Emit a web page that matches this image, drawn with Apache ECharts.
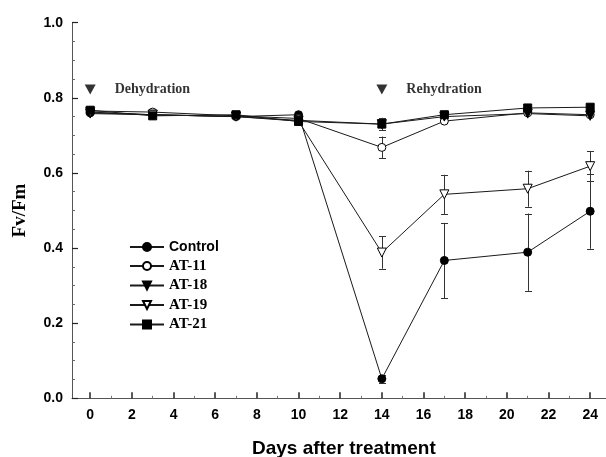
<!DOCTYPE html>
<html><head><meta charset="utf-8">
<script src="https://cdn.jsdelivr.net/npm/echarts@6/dist/echarts.min.js"></script>
<style>html,body{margin:0;padding:0;background:#fff}#c{width:606px;height:457px}</style>
</head><body><div id="c"></div>
<script>
const days = [0, 3, 7, 10, 14, 17, 21, 24];
const control = [0.760, 0.755, 0.750, 0.755, 0.052, 0.367, 0.389, 0.498];
const controlErr = [0, 0, 0, 0, 0.010, 0.100, 0.103, 0.100];
const at11 = [0.765, 0.762, 0.752, 0.745, 0.668, 0.738, 0.760, 0.755];
const at11Err = [0, 0, 0, 0, 0.029, 0, 0, 0];
const at18 = [0.758, 0.755, 0.750, 0.740, 0.730, 0.750, 0.758, 0.752];
const at18Err = [0, 0, 0, 0, 0, 0, 0, 0];
const at19 = [0.762, 0.755, 0.750, 0.738, 0.388, 0.543, 0.558, 0.618];
const at19Err = [0, 0, 0, 0, 0.043, 0.052, 0.048, 0.040];
const at21 = [0.767, 0.752, 0.755, 0.737, 0.730, 0.755, 0.773, 0.775];
const at21Err = [0, 0, 0, 0, 0.017, 0, 0, 0];
const seriesNames = ['Control', 'AT-11', 'AT-18', 'AT-19', 'AT-21'];
const xTickLabels = [0, 2, 4, 6, 8, 10, 12, 14, 16, 18, 20, 22, 24];
const xMinorTicks = [1, 3, 5, 7, 9, 11, 13, 15, 17, 19, 21, 23];
const annotDays = [0, 14];
const annotY = [0.822, 0.822];
const annotText = ['Dehydration', 'Rehydration'];

const LINE = '#1a1a1a';
const AXIS = '#555';
const TXT = '#000';
const sans = 'Liberation Sans, Arial, sans-serif';
const serif = 'Liberation Serif, Times New Roman, serif';

function lineSeries(name, vals, symbol, filled, size, rotate) {
  return {
    name: name, type: 'line', z: 3,
    data: days.map((d, i) => [d, vals[i]]),
    symbol: symbol, symbolSize: size, symbolRotate: rotate || 0, showAllSymbol: true,
    lineStyle: { color: LINE, width: 1 },
    itemStyle: { color: filled ? '#000' : '#fff', borderColor: '#000', borderWidth: 1, opacity: 1 },
    emphasis: { disabled: true }
  };
}
function errSeries(name, vals, errs) {
  const data = [];
  days.forEach((d, i) => { if (errs[i] > 0) data.push([d, vals[i] - errs[i], vals[i] + errs[i]]); });
  return {
    name: name + ' err', type: 'custom', z: 2, silent: true,
    encode: { x: 0, y: [1, 2] },
    data: data,
    renderItem: function (params, api) {
      const x = api.value(0);
      const lo = api.coord([x, api.value(1)]);
      const hi = api.coord([x, api.value(2)]);
      const w = 3.5;
      const px = Math.round(lo[0]) + 0.5;
      const st = { stroke: '#333', lineWidth: 1 };
      return {
        type: 'group', children: [
          { type: 'line', shape: { x1: px, y1: lo[1], x2: px, y2: hi[1] }, style: st },
          { type: 'line', shape: { x1: px - w, y1: Math.round(lo[1]) + 0.5, x2: px + w, y2: Math.round(lo[1]) + 0.5 }, style: st },
          { type: 'line', shape: { x1: px - w, y1: Math.round(hi[1]) + 0.5, x2: px + w, y2: Math.round(hi[1]) + 0.5 }, style: st }
        ]
      };
    }
  };
}

const chart = echarts.init(document.getElementById('c'), null, { renderer: 'canvas' });
chart.setOption({
  animation: false,
  backgroundColor: '#fff',
  grid: { left: 72, right: 0, top: 22.7, bottom: 58.7, containLabel: false },
  legend: {
    orient: 'vertical', left: 124, top: 235,
    data: seriesNames,
    itemWidth: 34, itemHeight: 10, itemGap: 4.5,
    selectedMode: false,
    textStyle: {
      color: TXT, lineHeight: 14,
      rich: {
        s: { fontFamily: sans, fontWeight: 'bold', fontSize: 14, lineHeight: 14, color: TXT },
        t: { fontFamily: serif, fontWeight: 'bold', fontSize: 15, lineHeight: 14, color: TXT }
      }
    },
    formatter: function (n) { return n === 'Control' ? '{s|' + n + '}' : '{t|' + n + '}'; }
  },
  xAxis: [{
    type: 'value', min: -0.874, max: 24.76, position: 'bottom',
    axisLine: { show: true, onZero: false, lineStyle: { color: AXIS, width: 1 } },
    axisTick: { show: true, inside: true, length: 6, customValues: xTickLabels, lineStyle: { color: '#222', width: 1.5 } },
    axisLabel: { customValues: xTickLabels, margin: 10, fontFamily: sans, fontWeight: 'bold', fontSize: 14, color: TXT },
    splitLine: { show: false }
  }, {
    type: 'value', min: -0.874, max: 24.76, position: 'bottom',
    axisLine: { show: false },
    axisTick: { show: true, inside: true, length: 2.5, customValues: xMinorTicks, lineStyle: { color: '#777', width: 1 } },
    axisLabel: { show: false },
    splitLine: { show: false }
  }],
  yAxis: {
    type: 'value', min: 0, max: 1, interval: 0.2,
    axisLine: { show: true, onZero: false, lineStyle: { color: AXIS, width: 1 } },
    axisTick: { show: true, inside: true, length: 6, lineStyle: { color: '#222', width: 1.2 } },
    minorTick: { show: true, splitNumber: 4, length: 3, lineStyle: { color: '#666', width: 1 } },
    axisLabel: { margin: 9, fontFamily: sans, fontWeight: 'bold', fontSize: 14, color: TXT, formatter: v => v.toFixed(1) },
    splitLine: { show: false },
    name: 'Fv/Fm', nameLocation: 'middle', nameGap: 42, nameRotate: 90,
    nameTextStyle: { fontFamily: serif, fontWeight: 'bold', fontSize: 19, color: TXT }
  },
  graphic: [{
    type: 'text', left: 252, top: 439,
    style: { text: 'Days after treatment', font: 'bold 19px ' + sans, fill: TXT }
  }],
  series: [
    errSeries('Control', control, controlErr),
    errSeries('AT-11', at11, at11Err),
    errSeries('AT-18', at18, at18Err),
    errSeries('AT-19', at19, at19Err),
    errSeries('AT-21', at21, at21Err),
    lineSeries('Control', control, 'circle', true, 8),
    lineSeries('AT-11', at11, 'circle', false, 8),
    lineSeries('AT-18', at18, 'triangle', true, 9, 180),
    lineSeries('AT-19', at19, 'triangle', false, 9, 180),
    lineSeries('AT-21', at21, 'rect', true, 8),
    {
      name: 'annot', type: 'scatter', z: 4, silent: true,
      data: annotDays.map((d, i) => ({ value: [d, annotY[i]], name: annotText[i] })),
      symbol: 'triangle', symbolRotate: 180, symbolSize: [11, 10],
      itemStyle: { color: '#000' },
      label: { show: true, position: 'right', distance: 19, formatter: p => p.name,
        fontFamily: serif, fontWeight: 'bold', fontSize: 14, color: TXT }
    }
  ]
});
</script>
</body></html>
